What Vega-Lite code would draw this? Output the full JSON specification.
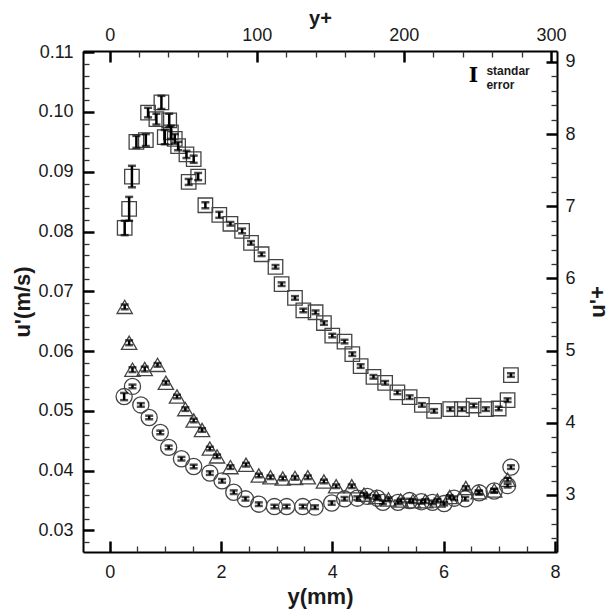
{
  "$schema": "https://vega.github.io/schema/vega-lite/v6.json",
  "width": 474,
  "height": 501,
  "autosize": "none",
  "padding": {"left": 83, "top": 51, "right": 57, "bottom": 59},
  "background": "white",
  "config": {
    "font": "Liberation Sans",
    "view": {"stroke": null},
    "axis": {
      "labelFont": "Liberation Sans",
      "titleFont": "Liberation Sans",
      "labelFontSize": 18,
      "titleFontSize": 22,
      "titleFontWeight": "bold",
      "labelColor": "#1a1a1a",
      "titleColor": "#1a1a1a",
      "domainColor": "black",
      "domainWidth": 2,
      "tickColor": "black",
      "grid": false,
      "labelOverlap": false,
      "labelFlush": false
    }
  },
  "datasets": {
    "pts": [
      {"s": "sq", "x": 0.27, "u": 0.0806, "e": 0.0012},
      {"s": "sq", "x": 0.35, "u": 0.0838, "e": 0.0020},
      {"s": "sq", "x": 0.40, "u": 0.0892, "e": 0.0018},
      {"s": "sq", "x": 0.48, "u": 0.0950, "e": 0.0010},
      {"s": "sq", "x": 0.65, "u": 0.0953, "e": 0.0010},
      {"s": "sq", "x": 0.69, "u": 0.0999, "e": 0.0008},
      {"s": "sq", "x": 0.84, "u": 0.0988, "e": 0.0009},
      {"s": "sq", "x": 0.93, "u": 0.1016, "e": 0.0011},
      {"s": "sq", "x": 0.99, "u": 0.0958, "e": 0.0012},
      {"s": "sq", "x": 1.07, "u": 0.0986, "e": 0.0011},
      {"s": "sq", "x": 1.10, "u": 0.0966, "e": 0.0011},
      {"s": "sq", "x": 1.17, "u": 0.0955, "e": 0.0008},
      {"s": "sq", "x": 1.23, "u": 0.0943, "e": 0.0007},
      {"s": "sq", "x": 1.38, "u": 0.0929, "e": 0.0006},
      {"s": "sq", "x": 1.51, "u": 0.0921, "e": 0.0006},
      {"s": "sq", "x": 1.42, "u": 0.0883, "e": 0.0005},
      {"s": "sq", "x": 1.59, "u": 0.0892, "e": 0.0006},
      {"s": "sq", "x": 1.72, "u": 0.0844, "e": 0.0005},
      {"s": "sq", "x": 1.97, "u": 0.0828, "e": 0.0005},
      {"s": "sq", "x": 2.17, "u": 0.0813, "e": 0.0003},
      {"s": "sq", "x": 2.38, "u": 0.0801, "e": 0.0004},
      {"s": "sq", "x": 2.54, "u": 0.0781, "e": 0.0003},
      {"s": "sq", "x": 2.73, "u": 0.0762, "e": 0.0003},
      {"s": "sq", "x": 2.98, "u": 0.0741, "e": 0.0003},
      {"s": "sq", "x": 3.09, "u": 0.0712, "e": 0.0003},
      {"s": "sq", "x": 3.33, "u": 0.0689, "e": 0.0003},
      {"s": "sq", "x": 3.48, "u": 0.0668, "e": 0.0003},
      {"s": "sq", "x": 3.70, "u": 0.0665, "e": 0.0003},
      {"s": "sq", "x": 3.85, "u": 0.0647, "e": 0.0003},
      {"s": "sq", "x": 4.00, "u": 0.0626, "e": 0.0003},
      {"s": "sq", "x": 4.22, "u": 0.0616, "e": 0.0003},
      {"s": "sq", "x": 4.36, "u": 0.0595, "e": 0.0003},
      {"s": "sq", "x": 4.51, "u": 0.0575, "e": 0.0003},
      {"s": "sq", "x": 4.74, "u": 0.0557, "e": 0.0003},
      {"s": "sq", "x": 4.95, "u": 0.0547, "e": 0.0003},
      {"s": "sq", "x": 5.17, "u": 0.0531, "e": 0.0003},
      {"s": "sq", "x": 5.39, "u": 0.0523, "e": 0.0003},
      {"s": "sq", "x": 5.61, "u": 0.0510, "e": 0.0003},
      {"s": "sq", "x": 5.83, "u": 0.0500, "e": 0.0003},
      {"s": "sq", "x": 6.12, "u": 0.0503, "e": 0.0003},
      {"s": "sq", "x": 6.33, "u": 0.0503, "e": 0.0003},
      {"s": "sq", "x": 6.54, "u": 0.0509, "e": 0.0003},
      {"s": "sq", "x": 6.76, "u": 0.0503, "e": 0.0003},
      {"s": "sq", "x": 6.99, "u": 0.0504, "e": 0.0003},
      {"s": "sq", "x": 7.15, "u": 0.0518, "e": 0.0003},
      {"s": "sq", "x": 7.21, "u": 0.0560, "e": 0.0003},
      {"s": "tri", "x": 0.27, "u": 0.0674, "e": 0.0004},
      {"s": "tri", "x": 0.35, "u": 0.0614, "e": 0.0004},
      {"s": "tri", "x": 0.41, "u": 0.0569, "e": 0.0004},
      {"s": "tri", "x": 0.63, "u": 0.0570, "e": 0.0004},
      {"s": "tri", "x": 0.86, "u": 0.0577, "e": 0.0003},
      {"s": "tri", "x": 1.01, "u": 0.0547, "e": 0.0003},
      {"s": "tri", "x": 1.21, "u": 0.0524, "e": 0.0003},
      {"s": "tri", "x": 1.36, "u": 0.0503, "e": 0.0003},
      {"s": "tri", "x": 1.51, "u": 0.0484, "e": 0.0003},
      {"s": "tri", "x": 1.66, "u": 0.0468, "e": 0.0003},
      {"s": "tri", "x": 1.80, "u": 0.0437, "e": 0.0003},
      {"s": "tri", "x": 1.93, "u": 0.0424, "e": 0.0003},
      {"s": "tri", "x": 2.17, "u": 0.0406, "e": 0.0003},
      {"s": "tri", "x": 2.45, "u": 0.0410, "e": 0.0003},
      {"s": "tri", "x": 2.68, "u": 0.0392, "e": 0.0003},
      {"s": "tri", "x": 2.89, "u": 0.0389, "e": 0.0003},
      {"s": "tri", "x": 3.11, "u": 0.0387, "e": 0.0003},
      {"s": "tri", "x": 3.33, "u": 0.0388, "e": 0.0003},
      {"s": "tri", "x": 3.56, "u": 0.0389, "e": 0.0003},
      {"s": "tri", "x": 3.85, "u": 0.0382, "e": 0.0003},
      {"s": "tri", "x": 4.07, "u": 0.0374, "e": 0.0003},
      {"s": "tri", "x": 4.35, "u": 0.0374, "e": 0.0003},
      {"s": "tri", "x": 4.57, "u": 0.0360, "e": 0.0003},
      {"s": "tri", "x": 4.79, "u": 0.0356, "e": 0.0003},
      {"s": "tri", "x": 5.01, "u": 0.0352, "e": 0.0003},
      {"s": "tri", "x": 5.23, "u": 0.0350, "e": 0.0003},
      {"s": "tri", "x": 5.45, "u": 0.0349, "e": 0.0003},
      {"s": "tri", "x": 5.67, "u": 0.0349, "e": 0.0003},
      {"s": "tri", "x": 5.89, "u": 0.0350, "e": 0.0003},
      {"s": "tri", "x": 6.11, "u": 0.0356, "e": 0.0003},
      {"s": "tri", "x": 6.40, "u": 0.0371, "e": 0.0003},
      {"s": "tri", "x": 6.63, "u": 0.0364, "e": 0.0003},
      {"s": "tri", "x": 6.91, "u": 0.0367, "e": 0.0003},
      {"s": "tri", "x": 7.15, "u": 0.0385, "e": 0.0003},
      {"s": "cir", "x": 0.26, "u": 0.0524, "e": 0.0006},
      {"s": "cir", "x": 0.41, "u": 0.0541, "e": 0.0003},
      {"s": "cir", "x": 0.56, "u": 0.0510, "e": 0.0003},
      {"s": "cir", "x": 0.71, "u": 0.0489, "e": 0.0003},
      {"s": "cir", "x": 0.91, "u": 0.0464, "e": 0.0003},
      {"s": "cir", "x": 1.06, "u": 0.0439, "e": 0.0003},
      {"s": "cir", "x": 1.29, "u": 0.0420, "e": 0.0003},
      {"s": "cir", "x": 1.51, "u": 0.0407, "e": 0.0003},
      {"s": "cir", "x": 1.80, "u": 0.0396, "e": 0.0003},
      {"s": "cir", "x": 2.02, "u": 0.0383, "e": 0.0003},
      {"s": "cir", "x": 2.23, "u": 0.0364, "e": 0.0003},
      {"s": "cir", "x": 2.44, "u": 0.0353, "e": 0.0003},
      {"s": "cir", "x": 2.68, "u": 0.0344, "e": 0.0003},
      {"s": "cir", "x": 2.96, "u": 0.0340, "e": 0.0003},
      {"s": "cir", "x": 3.18, "u": 0.0340, "e": 0.0003},
      {"s": "cir", "x": 3.47, "u": 0.0340, "e": 0.0003},
      {"s": "cir", "x": 3.69, "u": 0.0339, "e": 0.0003},
      {"s": "cir", "x": 3.99, "u": 0.0346, "e": 0.0003},
      {"s": "cir", "x": 4.22, "u": 0.0353, "e": 0.0003},
      {"s": "cir", "x": 4.45, "u": 0.0354, "e": 0.0003},
      {"s": "cir", "x": 4.63, "u": 0.0357, "e": 0.0003},
      {"s": "cir", "x": 4.81, "u": 0.0354, "e": 0.0003},
      {"s": "cir", "x": 4.91, "u": 0.0347, "e": 0.0003},
      {"s": "cir", "x": 5.18, "u": 0.0347, "e": 0.0003},
      {"s": "cir", "x": 5.39, "u": 0.0350, "e": 0.0003},
      {"s": "cir", "x": 5.60, "u": 0.0348, "e": 0.0003},
      {"s": "cir", "x": 5.80, "u": 0.0347, "e": 0.0003},
      {"s": "cir", "x": 6.01, "u": 0.0345, "e": 0.0003},
      {"s": "cir", "x": 6.19, "u": 0.0354, "e": 0.0003},
      {"s": "cir", "x": 6.39, "u": 0.0353, "e": 0.0003},
      {"s": "cir", "x": 6.64, "u": 0.0363, "e": 0.0003},
      {"s": "cir", "x": 6.91, "u": 0.0366, "e": 0.0003},
      {"s": "cir", "x": 7.15, "u": 0.0375, "e": 0.0003},
      {"s": "cir", "x": 7.21, "u": 0.0406, "e": 0.0003}
    ]
  },
  "layer": [
    {
      "data": {"name": "pts"},
      "mark": {"type": "point", "filled": false, "strokeWidth": 1.3, "color": "#444444", "opacity": 1},
      "encoding": {
        "x": {
          "field": "x", "type": "quantitative",
          "scale": {"domain": [-0.479, 8.038], "nice": false, "zero": false},
          "axis": {
            "orient": "bottom", "title": "y(mm)",
            "values": [0, 2, 4, 6, 8],
            "ticks": false,
            "format": "d",
            "labelPadding": 11,
            "titlePadding": 5
          }
        },
        "y": {
          "field": "u", "type": "quantitative",
          "scale": {"domain": [0.0264, 0.1102], "nice": false, "zero": false},
          "axis": {
            "orient": "left", "title": "u'(m/s)",
            "values": [0.03, 0.04, 0.05, 0.06, 0.07, 0.08, 0.09, 0.1, 0.11],
            "ticks": false,
            "format": ".2f",
            "labelPadding": 10,
            "titlePadding": 3
          }
        },
        "shape": {"field": "s", "type": "nominal", "scale": {"domain": ["sq", "tri", "cir"], "range": ["square", "triangle-up", "circle"]}, "legend": null},
        "size": {"field": "s", "type": "ordinal", "scale": {"domain": ["sq", "tri", "cir"], "range": [210, 260, 370]}, "legend": null}
      }
    },
    {
      "data": {"name": "pts"},
      "mark": {"type": "errorbar", "color": "black", "ticks": {"size": 8, "thickness": 2.5}, "rule": {"strokeWidth": 2.5}},
      "encoding": {
        "x": {"field": "x", "type": "quantitative", "scale": {"domain": [-0.479, 8.038], "nice": false, "zero": false}, "axis": null},
        "y": {"field": "u", "type": "quantitative", "scale": {"domain": [0.0264, 0.1102], "nice": false, "zero": false}, "axis": null},
        "yError": {"field": "e"}
      }
    },
    {
      "data": {"values": [{}]},
      "mark": {"type": "text", "text": "I", "font": "DejaVu Serif", "fontWeight": "bold", "fontSize": 20, "color": "black", "align": "center", "baseline": "middle"},
      "encoding": {
        "x": {"datum": 6.535, "type": "quantitative", "scale": {"domain": [-0.479, 8.038], "nice": false, "zero": false}, "axis": null},
        "y": {"datum": 0.1060, "type": "quantitative", "scale": {"domain": [0.0264, 0.1102], "nice": false, "zero": false}, "axis": null}
      }
    },
    {
      "data": {"values": [{}]},
      "mark": {"type": "text", "text": ["standar", "error"], "font": "Liberation Sans", "fontWeight": "bold", "fontSize": 12, "lineHeight": 14, "color": "#1a1a1a", "align": "left", "baseline": "middle"},
      "encoding": {
        "x": {"datum": 6.77, "type": "quantitative", "scale": {"domain": [-0.479, 8.038], "nice": false, "zero": false}, "axis": null},
        "y": {"datum": 0.1069, "type": "quantitative", "scale": {"domain": [0.0264, 0.1102], "nice": false, "zero": false}, "axis": null}
      }
    },
    {
      "data": {"values": [{"yp": 0, "up": 3}, {"yp": 300, "up": 9}]},
      "mark": {"type": "point", "opacity": 0},
      "encoding": {
        "x": {
          "field": "yp", "type": "quantitative",
          "scale": {"domain": [-18.1, 304.1], "nice": false, "zero": false},
          "axis": {
            "orient": "top", "title": "y+", "titleFontSize": 20,
            "values": [0, 100, 200, 300],
            "ticks": false,
            "labelPadding": 7,
            "titlePadding": -2
          }
        },
        "y": {
          "field": "up", "type": "quantitative",
          "scale": {"domain": [2.21, 9.15], "nice": false, "zero": false},
          "axis": {
            "orient": "right", "title": "u'+", "titleAngle": -90,
            "values": [3, 4, 5, 6, 7, 8, 9],
            "ticks": false,
            "format": "d",
            "labelPadding": 8,
            "titlePadding": 34
          }
        }
      }
    },
    {
      "data": {"values": [{"xa": 0, "ua": 0.05}]},
      "mark": {"type": "point", "opacity": 0},
      "encoding": {
        "x": {
          "field": "xa", "type": "quantitative",
          "scale": {"domain": [-0.479, 8.038], "nice": false, "zero": false},
          "axis": {
            "orient": "bottom", "title": null, "labels": false, "domain": false, "ticks": true,
            "values": [0, 2, 4, 6, 8],
            "offset": -11, "tickSize": 11, "tickWidth": 2.5, "tickColor": "black"
          }
        },
        "y": {
          "field": "ua", "type": "quantitative",
          "scale": {"domain": [0.0264, 0.1102], "nice": false, "zero": false},
          "axis": {
            "orient": "left", "title": null, "labels": false, "domain": false, "ticks": true,
            "values": [0.03, 0.04, 0.05, 0.06, 0.07, 0.08, 0.09, 0.1, 0.11],
            "offset": -11, "tickSize": 11, "tickWidth": 2.5, "tickColor": "black"
          }
        }
      }
    },
    {
      "data": {"values": [{"xm": 0, "um": 0.05}]},
      "mark": {"type": "point", "opacity": 0},
      "encoding": {
        "x": {
          "field": "xm", "type": "quantitative",
          "scale": {"domain": [-0.479, 8.038], "nice": false, "zero": false},
          "axis": {
            "orient": "bottom", "title": null, "labels": false, "domain": false, "ticks": true,
            "values": [0.5, 1, 1.5, 2.5, 3, 3.5, 4.5, 5, 5.5, 6.5, 7, 7.5],
            "offset": -6, "tickSize": 6, "tickWidth": 1.3, "tickColor": "#333333"
          }
        },
        "y": {
          "field": "um", "type": "quantitative",
          "scale": {"domain": [0.0264, 0.1102], "nice": false, "zero": false},
          "axis": {
            "orient": "left", "title": null, "labels": false, "domain": false, "ticks": true,
            "values": [0.028, 0.032, 0.034, 0.036, 0.038, 0.042, 0.044, 0.046, 0.048, 0.052, 0.054, 0.056, 0.058, 0.062, 0.064, 0.066, 0.068, 0.072, 0.074, 0.076, 0.078, 0.082, 0.084, 0.086, 0.088, 0.092, 0.094, 0.096, 0.098, 0.102, 0.104, 0.106, 0.108],
            "offset": -6, "tickSize": 6, "tickWidth": 1.3, "tickColor": "#333333"
          }
        }
      }
    },
    {
      "data": {"values": [{"yb": 0, "ub": 3}]},
      "mark": {"type": "point", "opacity": 0},
      "encoding": {
        "x": {
          "field": "yb", "type": "quantitative",
          "scale": {"domain": [-18.1, 304.1], "nice": false, "zero": false},
          "axis": {
            "orient": "top", "title": null, "labels": false, "domain": false, "ticks": true,
            "values": [0, 100, 200, 300],
            "offset": -11, "tickSize": 11, "tickWidth": 2.5, "tickColor": "black"
          }
        },
        "y": {
          "field": "ub", "type": "quantitative",
          "scale": {"domain": [2.21, 9.15], "nice": false, "zero": false},
          "axis": {
            "orient": "right", "title": null, "labels": false, "domain": false, "ticks": true,
            "values": [3, 4, 5, 6, 7, 8, 9],
            "offset": -11, "tickSize": 11, "tickWidth": 2.5, "tickColor": "black"
          }
        }
      }
    },
    {
      "data": {"values": [{"yc": 0, "uc": 3}]},
      "mark": {"type": "point", "opacity": 0},
      "encoding": {
        "x": {
          "field": "yc", "type": "quantitative",
          "scale": {"domain": [-18.1, 304.1], "nice": false, "zero": false},
          "axis": {
            "orient": "top", "title": null, "labels": false, "domain": false, "ticks": true,
            "values": [20, 40, 60, 80, 120, 140, 160, 180, 220, 240, 260, 280],
            "offset": -6, "tickSize": 6, "tickWidth": 1.3, "tickColor": "#333333"
          }
        },
        "y": {
          "field": "uc", "type": "quantitative",
          "scale": {"domain": [2.21, 9.15], "nice": false, "zero": false},
          "axis": {
            "orient": "right", "title": null, "labels": false, "domain": false, "ticks": true,
            "values": [2.4, 2.6, 2.8, 3.2, 3.4, 3.6, 3.8, 4.2, 4.4, 4.6, 4.8, 5.2, 5.4, 5.6, 5.8, 6.2, 6.4, 6.6, 6.8, 7.2, 7.4, 7.6, 7.8, 8.2, 8.4, 8.6, 8.8],
            "offset": -6, "tickSize": 6, "tickWidth": 1.3, "tickColor": "#333333"
          }
        }
      }
    }
  ],
  "resolve": {"scale": {"x": "independent", "y": "independent"}}
}
